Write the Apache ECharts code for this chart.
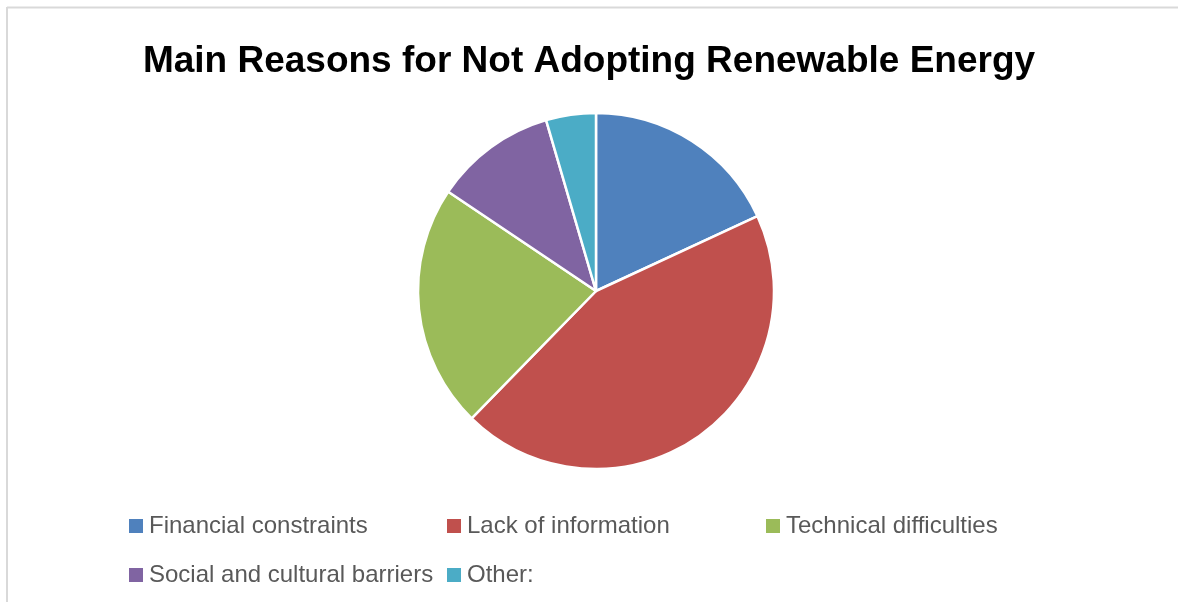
<!DOCTYPE html>
<html>
<head>
<meta charset="utf-8">
<style>
  html, body { margin: 0; padding: 0; background: #fff; }
  #chart { width: 1178px; height: 602px; }
</style>
<script src="https://cdn.jsdelivr.net/npm/echarts@6/dist/echarts.min.js"></script>
</head>
<body>
<div id="chart"></div>
<script>
// Survey shares of reasons for not adopting renewable energy (%)
const categories = [
  'Financial constraints',
  'Lack of information',
  'Technical difficulties',
  'Social and cultural barriers',
  'Other:'
];
const shares = [18, 44, 22, 11, 4.5];
const colors = ['#4F81BD', '#C0504D', '#9BBB59', '#8064A2', '#4BACC6'];

const chart = echarts.init(document.getElementById('chart'));

const legendText = {
  fontFamily: 'Liberation Sans, Arial, sans-serif',
  fontSize: 24,
  lineHeight: 24,
  color: '#595959'
};
const legendBase = {
  orient: 'vertical',
  top: 514,
  itemWidth: 16,
  itemHeight: 16,
  itemGap: 25,
  icon: 'rect',
  selectedMode: false,
  textStyle: legendText,
  padding: 0
};

chart.setOption({
  animation: false,
  color: colors,
  title: {
    text: 'Main Reasons for Not Adopting Renewable Energy',
    left: 'center',
    top: 38,
    textStyle: {
      fontFamily: 'Liberation Sans, Arial, sans-serif',
      fontWeight: 'bold',
      fontSize: 37,
      color: '#000'
    }
  },
  legend: [
    Object.assign({}, legendBase, { left: 127, data: [categories[0], categories[3]] }),
    Object.assign({}, legendBase, { left: 445, data: [categories[1], categories[4]] }),
    Object.assign({}, legendBase, { left: 764, data: [categories[2]] })
  ],
  graphic: [
    { type: 'line', shape: { x1: 7, y1: 7.5, x2: 1178, y2: 7.5 }, style: { stroke: '#d9d9d9', lineWidth: 2 } },
    { type: 'line', shape: { x1: 7, y1: 7, x2: 7, y2: 602 }, style: { stroke: '#d9d9d9', lineWidth: 2 } }
  ],
  series: [{
    type: 'pie',
    center: [596, 291],
    radius: 178,
    startAngle: 90,
    clockwise: true,
    label: { show: false },
    labelLine: { show: false },
    itemStyle: { borderColor: '#fff', borderWidth: 2.5 },
    emphasis: { disabled: true },
    data: categories.map((name, i) => ({ name, value: shares[i] }))
  }]
});
</script>
</body>
</html>
